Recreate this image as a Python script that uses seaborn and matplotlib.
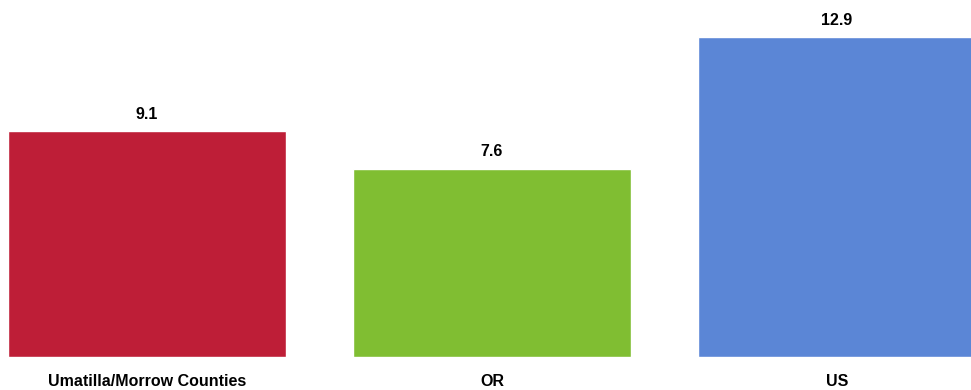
import matplotlib
matplotlib.use("Agg")
import matplotlib.pyplot as plt
import seaborn as sns
import pandas as pd

regions = ["Umatilla/Morrow Counties", "OR", "US"]
values = [9.1, 7.6, 12.9]
colors = ["#BE1E37", "#80BE32", "#5B86D6"]

sns.set_style("white")
plt.rcParams["font.family"] = ["Liberation Sans", "DejaVu Sans"]
plt.rcParams["text.color"] = "black"
plt.rcParams["xtick.color"] = "black"

df = pd.DataFrame({"region": regions, "value": values})

fig = plt.figure(figsize=(9.71, 3.9), dpi=100)
ax = fig.add_axes([0, 33 / 390, 1, 357 / 390])
sns.barplot(data=df, x="region", y="value", hue="region", palette=colors,
            width=0.805, legend=False, ax=ax, saturation=1)

for i, v in enumerate(values):
    ax.text(i, v + 0.38, f"{v:.1f}", ha="center", va="bottom",
            fontsize=11.5, fontweight="bold", color="black")

ax.set_xlim(-0.426, 2.388)
ax.set_ylim(0, 14.4)
ax.set_xlabel("")
ax.set_ylabel("")
ax.set_yticks([])
ax.tick_params(axis="x", length=0, pad=12, labelsize=11.5, labelcolor="black")
for lbl in ax.get_xticklabels():
    lbl.set_fontweight("bold")
sns.despine(left=True, bottom=True)

fig.savefig("out.png", dpi=100)
